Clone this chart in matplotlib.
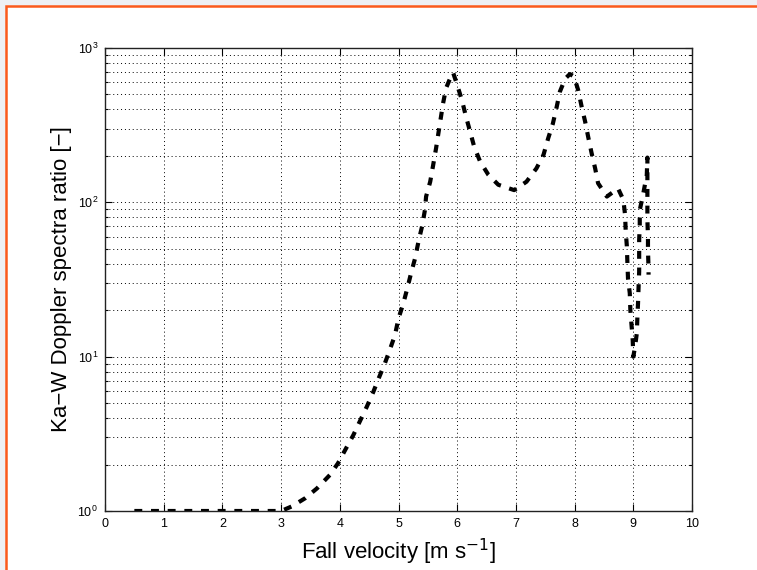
import matplotlib
matplotlib.use("Agg")
import matplotlib.pyplot as plt
from matplotlib.patches import Rectangle
from matplotlib.ticker import LogLocator, MultipleLocator

plt.rcParams['font.family'] = ['Liberation Sans', 'DejaVu Sans']

# Ka-W spectral ratio against fall velocity
velocity = [0.5, 1.0, 1.5, 2.0, 2.5, 3.0, 3.18, 3.41, 3.61, 3.83, 3.97, 4.09,
            4.23, 4.34, 4.46, 4.57, 4.66, 4.77, 4.86, 4.94, 5.0, 5.08, 5.15,
            5.22, 5.28, 5.34, 5.40, 5.45, 5.47, 5.54, 5.59, 5.64, 5.68, 5.72,
            5.76, 5.81, 5.91, 5.93, 5.99, 6.08, 6.15, 6.22, 6.29, 6.39, 6.53,
            6.70, 6.97, 7.18, 7.35, 7.47, 7.55, 7.63, 7.69, 7.75, 7.84, 7.92,
            7.99, 8.06, 8.12, 8.18, 8.23, 8.29, 8.35, 8.40, 8.55, 8.74, 8.83,
            8.86, 8.87, 8.89, 8.90, 8.91, 8.94, 8.95, 8.97, 8.99, 9.0, 9.03,
            9.06, 9.07, 9.08, 9.09, 9.10, 9.10, 9.10, 9.11, 9.11, 9.17, 9.23,
            9.24, 9.24, 9.24, 9.25, 9.25, 9.26, 9.26]
ratio = [1.0, 1.0, 1.0, 1.0, 1.0, 1.0, 1.07, 1.21, 1.40, 1.71, 2.04, 2.48,
         3.1, 3.8, 4.74, 5.9, 7.2, 9.1, 11.3, 13.8, 17.7, 22, 27.7,
         35.5, 43, 55.6, 69.5, 89, 109, 136, 174, 224, 281, 351,
         439, 549, 678, 693, 591, 460, 359, 287, 229, 184, 151,
         130, 120, 136, 166, 203, 260, 324, 407, 522, 633, 678,
         653, 535, 417, 333, 267, 208, 166, 133, 109, 123, 104,
         83, 66, 52, 40, 32, 25.8, 20, 16, 12.8, 10, 11.6,
         14.2, 18.2, 22, 28.4, 35.5, 44.5, 57, 71, 89, 114, 151,
         195, 120, 77, 60, 49, 37, 34]

fig = plt.figure(figsize=(7.57, 5.70), dpi=100)
fig.patch.set_facecolor('#eef0f4')
# white page with an orange frame on the top and left
fig.patches.append(Rectangle((6 / 757, -0.1), 1.2, 1.1 - 6 / 570,
                             transform=fig.transFigure, facecolor='white',
                             edgecolor='#fb5a1c', linewidth=1.8, zorder=-10))

ax = fig.add_axes([105 / 757, 1 - 511 / 570, 587 / 757, 463 / 570])
ax.set_facecolor('white')
ax.plot(velocity, ratio, color='black', linewidth=3,
        linestyle=(0, (1.9, 2.1)))

ax.set_yscale('log')
ax.set_xlim(0, 10)
ax.set_ylim(1, 1000)
ax.xaxis.set_major_locator(MultipleLocator(1))
ax.yaxis.set_major_locator(LogLocator(base=10))
ax.yaxis.set_minor_locator(LogLocator(base=10, subs=range(2, 10)))

grid_style = dict(color='black', linestyle=(0, (1, 3)), linewidth=0.7)
ax.grid(True, which='major', axis='both', **grid_style)
ax.grid(True, which='minor', axis='y', **grid_style)

ax.tick_params(which='both', direction='in', top=True, right=True,
               labelsize=9, width=0.8)
ax.tick_params(which='major', length=5, pad=5)
ax.tick_params(which='minor', length=2.5)
for s in ax.spines.values():
    s.set_linewidth(1.0)
    s.set_color('#222222')

ax.set_xlabel('Fall velocity [m s$^{-1}$]', fontsize=16, labelpad=5)
ax.set_ylabel('Ka\u2212W Doppler spectra ratio [\u2212]', fontsize=16,
              labelpad=4)

fig.savefig('out.png', dpi=100, facecolor=fig.get_facecolor())
